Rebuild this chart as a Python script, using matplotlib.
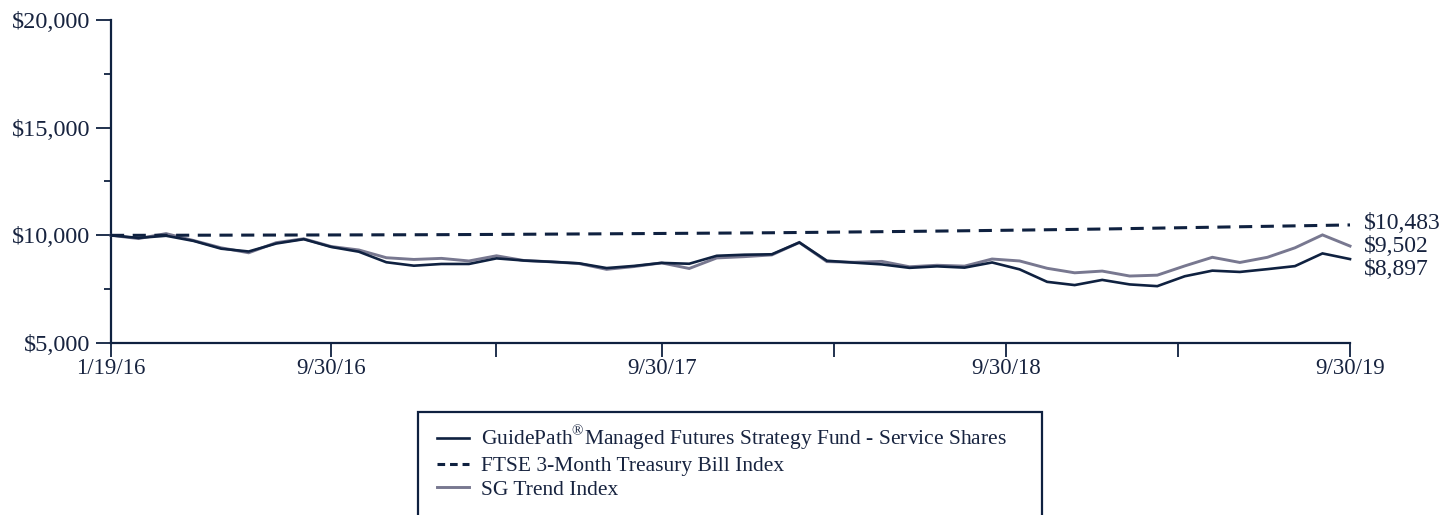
import matplotlib
matplotlib.use("Agg")
import matplotlib.pyplot as plt
from matplotlib.lines import Line2D
from matplotlib.patches import Rectangle
from matplotlib.ticker import FixedLocator, FuncFormatter

plt.rcParams['font.family'] = ['Liberation Serif', 'DejaVu Serif']
plt.rcParams['mathtext.fontset'] = 'custom'
plt.rcParams['mathtext.rm'] = 'Liberation Serif'

# ---- data (month-end values, 1/19/16 .. 9/30/19) ----
fund = [10000, 9880, 9980, 9740, 9380, 9250, 9620, 9820, 9460, 9240,
        8750, 8590, 8670, 8670, 8930, 8830, 8770, 8700, 8480, 8580,
        8720, 8680, 9050, 9100, 9120, 9670, 8820, 8730, 8650, 8490,
        8560, 8500, 8740, 8420, 7840, 7690, 7930, 7720, 7640, 8100,
        8360, 8300, 8430, 8570, 9160, 8897]
tbill = [10000, 10001, 10003, 10006, 10008, 10011, 10013, 10016, 10018, 10021,
         10024, 10027, 10031, 10037, 10043, 10050, 10057, 10064, 10071, 10079,
         10087, 10095, 10103, 10111, 10120, 10132, 10144, 10157, 10170, 10183,
         10197, 10212, 10227, 10243, 10259, 10276, 10293, 10314, 10335, 10356,
         10377, 10398, 10419, 10440, 10461, 10483]
sg = [10000, 9850, 10080, 9760, 9420, 9190, 9660, 9840, 9480, 9320,
      8960, 8880, 8930, 8810, 9050, 8830, 8770, 8690, 8420, 8550,
      8720, 8460, 8950, 9010, 9090, 9670, 8780, 8750, 8790, 8540,
      8610, 8570, 8900, 8810, 8470, 8260, 8340, 8110, 8150, 8580,
      8980, 8740, 8980, 9420, 10020, 9502]

x_tick_pos = [0, 8, 14, 20, 26.25, 32.5, 38.75, 45]
x_tick_labels = ["1/19/16", "9/30/16", "", "9/30/17", "", "9/30/18", "", "9/30/19"]
y_ticks = [5000, 10000, 15000, 20000]
y_minor = [7500, 12500, 17500]

series_names = ["GuidePath$^{\u00ae}$Managed Futures Strategy Fund - Service Shares",
                "FTSE 3-Month Treasury Bill Index",
                "SG Trend Index"]
end_labels = ["$10,483", "$9,502", "$8,897"]

NAVY = "#0f2140"
GRAY = "#787890"
TXT = "#17233f"

fig = plt.figure(figsize=(14.4, 5.15), dpi=100)
ax = fig.add_axes([111/1440, 1 - 343/515, (1350 - 111)/1440, (343 - 20)/515])

x = list(range(len(fund)))
ax.plot(x, sg, color=GRAY, lw=2.1, solid_joinstyle='miter', clip_on=False, zorder=3)
ax.plot(x, fund, color=NAVY, lw=1.9, solid_joinstyle='miter', clip_on=False, zorder=4)
ax.plot(x, tbill, color=NAVY, lw=2.2, dashes=(4.3, 2.8), clip_on=False, zorder=5)

ax.set_xlim(0, len(fund) - 1)
ax.set_ylim(5000, 20000)

for s in ['top', 'right']:
    ax.spines[s].set_visible(False)
for s in ['left', 'bottom']:
    ax.spines[s].set_color(NAVY)
    ax.spines[s].set_linewidth(1.6)

ax.set_xticks(x_tick_pos)
ax.set_xticklabels(x_tick_labels)
ax.set_yticks(y_ticks)
ax.yaxis.set_minor_locator(FixedLocator(y_minor))
ax.yaxis.set_major_formatter(FuncFormatter(lambda v, p: "${:,.0f}".format(v)))
ax.tick_params(axis='x', direction='out', length=10, width=1.3, color=NAVY,
               labelsize=16.5, labelcolor=TXT, pad=1)
ax.tick_params(axis='y', which='major', direction='out', length=11, width=1.3,
               color=NAVY, labelsize=17.5, labelcolor=TXT, pad=4)
ax.tick_params(axis='y', which='minor', direction='out', length=5, width=1.3,
               color=NAVY)

# end-of-line value labels
last = len(fund) - 1
offsets = [1.3, -0.4, -7.5]
for val, lab, dy in zip([tbill[-1], sg[-1], fund[-1]], end_labels, offsets):
    ax.annotate(lab, xy=(last, val), xytext=(10, dy), textcoords='offset points',
                ha='left', va='center', fontsize=17, color=TXT, annotation_clip=False)

# legend
handles = [Line2D([], [], color=NAVY, lw=1.9),
           Line2D([], [], color=NAVY, lw=2.2, dashes=(2.5, 1.6)),
           Line2D([], [], color=GRAY, lw=2.1)]
leg = fig.legend(handles, series_names, loc='upper left',
                 bbox_to_anchor=(437/1440, 1 - 424/515), frameon=False,
                 fontsize=15.5, handlelength=1.5, handletextpad=0.55,
                 labelspacing=0.17, borderpad=0, borderaxespad=0)
for t in leg.get_texts():
    t.set_color(TXT)

fig.patches.append(Rectangle((418/1440, -0.2), (1042 - 418)/1440, 0.2 + (515 - 412)/515,
                             transform=fig.transFigure, fill=False,
                             edgecolor=NAVY, lw=1.6))

fig.savefig("out.png", dpi=100)
